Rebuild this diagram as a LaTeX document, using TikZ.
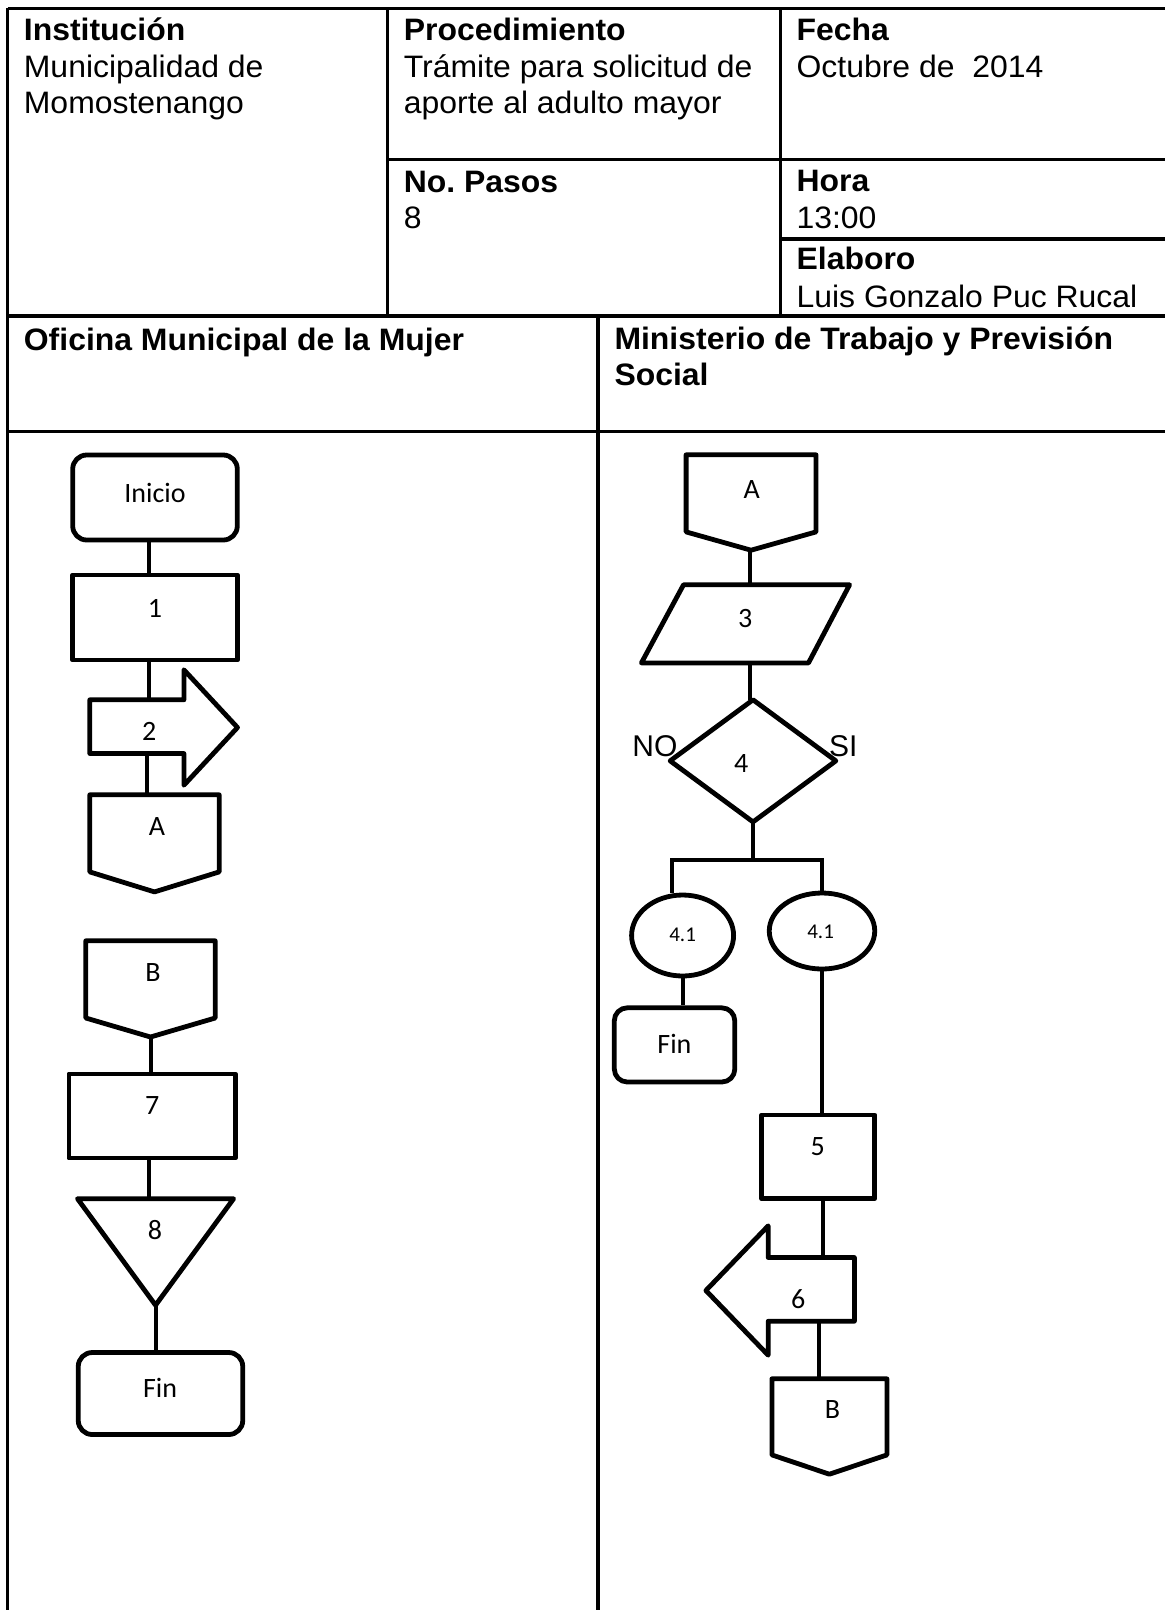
\documentclass[tikz,border=0pt]{standalone}
\usepackage{fontspec}
\setmainfont{Liberation Sans}
\newfontfamily\hdr[FakeStretch=1.03]{Liberation Sans}
\newfontfamily\flw{Carlito}
\usetikzlibrary{calc,shapes.geometric}
\frenchspacing
\newcommand\offpagepath[2]{\draw[shpline] (#1.north west) -- (#1.north east) -- ([yshift=#2]#1.south east) -- (#1.south) -- ([yshift=#2]#1.south west) -- cycle;}
\begin{document}
\begin{tikzpicture}[x=1pt,y=-1pt,
  tbl/.style={line width=3.2pt},
  shpline/.style={line width=4.8pt, line join=round},
  shp/.style={draw, line width=4.8pt, line join=round, inner sep=0pt},
  ghost/.style={draw=none, inner sep=0pt},
  conn/.style={line width=4pt},
  hd/.style={anchor=base west, inner sep=0pt, font=\hdr\fontsize{31}{36}\selectfont},
  hb/.style={anchor=base west, inner sep=0pt, font=\hdr\bfseries\fontsize{31}{36}\selectfont},
  lbl/.style={inner sep=0pt, font=\flw\fontsize{28}{30}\selectfont},
  sml/.style={inner sep=0pt, font=\flw\fontsize{21}{24}\selectfont},
  yn/.style={anchor=base west, inner sep=0pt, font=\fontsize{30}{34}\selectfont}
]
\fill[white] (0,0) rectangle (1165,1610);
\useasboundingbox (0,0) rectangle (1165,1610);

% ---------- table ----------
\draw[tbl] (7.7,8.3) -- (1165,8.3);
\draw[tbl] (7.7,8.3) -- (7.7,1610);
\draw[tbl] (387.3,8.3) -- (387.3,316);
\draw[tbl] (780.7,8.3) -- (780.7,316);
\draw[tbl] (387.3,159.5) -- (1165,159.5);
\draw[tbl] (780.7,239) -- (1165,239);
\draw[tbl] (7.7,316) -- (1165,316);
\draw[tbl] (598,316) -- (598,1610);
\draw[tbl] (7.7,431.7) -- (1165,431.7);

% ---------- header texts ----------
\node[hb] (hInst) at (23.7,40.7) {Institución};
\node[hd] (hInst1) at (23.7,77.3) {Municipalidad de};
\node[hd] (hInst2) at (23.7,113.9) {Momostenango};
\node[hb] (hProc) at (403.7,40.7) {Procedimiento};
\node[hd] (hProc1) at (403.7,77.3) {Trámite para solicitud de};
\node[hd] (hProc2) at (403.7,113.9) {aporte al adulto mayor};
\node[hb] (hPas) at (403.7,192.7) {No.\ Pasos};
\node[hd] (hPas1) at (403.7,228.3) {8};
\node[hb] (hFec) at (796.4,40.7) {Fecha};
\node[hd] (hFec1) at (796.4,77.3) {Octubre de\ \ 2014};
\node[hb] (hHor) at (796.4,191.7) {Hora};
\node[hd] (hHor1) at (796.4,228.3) {13:00};
\node[hb] (hEla) at (796.4,269.5) {Elaboro};
\node[hd] (hEla1) at (796.4,307) {Luis Gonzalo Puc Rucal};
\node[hb] (hOfi) at (23.7,350) {Oficina Municipal de la Mujer};
\node[hb] (hMin) at (614.3,349.3) {Ministerio de Trabajo y Previsión};
\node[hb] (hMin1) at (614.3,385) {Social};

% ---------- left lane shapes ----------
\node[shp, rounded corners=14pt, minimum width=164.6pt, minimum height=85pt] (ini) at (155,497.5) {};
\node[shp, minimum width=164.6pt, minimum height=85pt] (b1) at (155,617.5) {};
\node[ghost, minimum width=147.3pt, minimum height=115pt] (a2) at (163.65,727.5) {};
\draw[shpline] ([yshift=-30pt]a2.north west) -- ([xshift=-53.6pt,yshift=-30pt]a2.north east) -- ([xshift=-53.6pt]a2.north east) -- (a2.east) -- ([xshift=-53.6pt]a2.south east) -- ([xshift=-53.6pt,yshift=31.7pt]a2.south east) -- ([yshift=31.7pt]a2.south west) -- cycle;
\coordinate (a2top) at ([yshift=-30pt]a2.north);
\coordinate (a2bot) at ([yshift=31.7pt]a2.south);
\node[ghost, minimum width=129pt, minimum height=96.7pt] (cA1) at (154.5,843.35) {};
\offpagepath{cA1}{20pt}
\node[ghost, minimum width=129pt, minimum height=95.8pt] (cB1) at (150.5,988.9) {};
\offpagepath{cB1}{19pt}
\node[shp, minimum width=166.5pt, minimum height=84pt] (b7) at (152.15,1116) {};
\node[ghost, minimum width=155.7pt, minimum height=106.1pt] (tr8) at (155.55,1251.95) {};
\draw[shpline] (tr8.north west) -- (tr8.north east) -- (tr8.south) -- cycle;
\node[shp, rounded corners=14pt, minimum width=164.5pt, minimum height=82pt] (fin1) at (160.5,1393.5) {};

% ---------- right lane shapes ----------
\node[ghost, minimum width=129.5pt, minimum height=95pt] (cA2) at (751.05,502.5) {};
\offpagepath{cA2}{18.3pt}
\node[ghost, minimum width=207.8pt, minimum height=77.7pt] (p3) at (745.5,623.85) {};
\draw[shpline] ([xshift=42.1pt]p3.north west) -- (p3.north east) -- ([xshift=-41.1pt]p3.south east) -- (p3.south west) -- cycle;
\node[ghost, minimum width=165.3pt, minimum height=121.7pt] (d4) at (753,760.85) {};
\draw[shpline] (d4.north) -- (d4.east) -- (d4.south) -- (d4.west) -- cycle;
\node[shp, ellipse, minimum width=102pt, minimum height=81pt] (e1) at (682.6,935.5) {};
\node[shp, ellipse, minimum width=105.5pt, minimum height=76pt] (e2) at (822,931) {};
\node[shp, rounded corners=13pt, minimum width=120.5pt, minimum height=74.2pt] (fR) at (674.55,1044.9) {};
\node[shp, minimum width=113.1pt, minimum height=83.8pt] (b5) at (818.25,1156.9) {};
\node[ghost, minimum width=148.1pt, minimum height=129pt] (a6) at (780.15,1290.5) {};
\draw[shpline] ([yshift=-31.7pt]a6.north east) -- ([xshift=62.3pt,yshift=-31.7pt]a6.north west) -- ([xshift=62.3pt]a6.north west) -- (a6.west) -- ([xshift=62.3pt]a6.south west) -- ([xshift=62.3pt,yshift=34pt]a6.south west) -- ([yshift=34pt]a6.south east) -- cycle;
\coordinate (a6top) at ([yshift=-31.7pt]a6.north);
\coordinate (a6bot) at ([yshift=34pt]a6.south);
\node[ghost, minimum width=114.6pt, minimum height=95pt] (cB2) at (829.4,1426.5) {};
\offpagepath{cB2}{19.3pt}

% ---------- texts in shapes ----------
\node[lbl] (tI) at (155,492.7) {Inicio};
\node[lbl] (t1) at (155,608.3) {1};
\node[lbl] (t2) at (149.2,731.7) {2};
\node[lbl] (tA1) at (157,826.7) {A};
\node[lbl] (tB1) at (153,972.4) {B};
\node[lbl] (t7) at (152.3,1106) {7};
\node[lbl] (t8) at (155,1230.5) {8};
\node[lbl] (tF1) at (160,1388) {Fin};
\node[lbl] (tA2) at (751.6,489.3) {A};
\node[lbl] (t3) at (745.3,618.3) {3};
\node[lbl] (t4) at (741.2,763.3) {4};
\node[yn] (tNO) at (632.2,756.7) {NO};
\node[yn] (tSI) at (829,756.7) {SI};
\node[sml] (t41a) at (682.6,935.3) {4.1};
\node[sml] (t41b) at (820.6,931.7) {4.1};
\node[lbl] (tF2) at (674.4,1044) {Fin};
\node[lbl] (t5) at (817.7,1146.8) {5};
\node[lbl] (t6) at (798.3,1299.4) {6};
\node[lbl] (tB2) at (832.6,1409.4) {B};

% ---------- connectors ----------
\coordinate (cl1) at (149.2,0);
\coordinate (cl2) at (146.6,0);
\coordinate (cr1) at (749.8,0);
\coordinate (cr2) at (823.3,0);
\coordinate (cr3) at (818.8,0);
\draw[conn] (ini.south -| cl1) -- (b1.north -| cl1);
\draw[conn] (b1.south -| cl1) -- (a2top -| cl1);
\draw[conn] (a2bot -| cl2) -- (cA1.north -| cl2);
\draw[conn] (cB1.south) -- (cB1.south |- b7.north);
\draw[conn] (b7.south -| cl1) -- (tr8.north -| cl1);
\draw[conn] (tr8.south) -- (tr8.south |- fin1.north);

\draw[conn] (cA2.south -| cr1) -- (p3.north -| cr1);
\draw[conn] (p3.south -| cr1) -- (d4.north -| cr1);
\path (d4.south) ++(0,38.3) coordinate (j4);
\draw[conn] (d4.south) -- (j4);
\draw[conn] ([xshift=-11pt]e1.north) |- (j4) -| (e2.north);
\draw[conn] (e1.south) -- (e1.south |- fR.north);
\draw[conn] (e2.south) -- (e2.south |- b5.north);
\draw[conn] (b5.south -| cr2) -- (a6top -| cr2);
\draw[conn] (a6bot -| cr3) -- (cB2.north -| cr3);
\end{tikzpicture}
\end{document}
